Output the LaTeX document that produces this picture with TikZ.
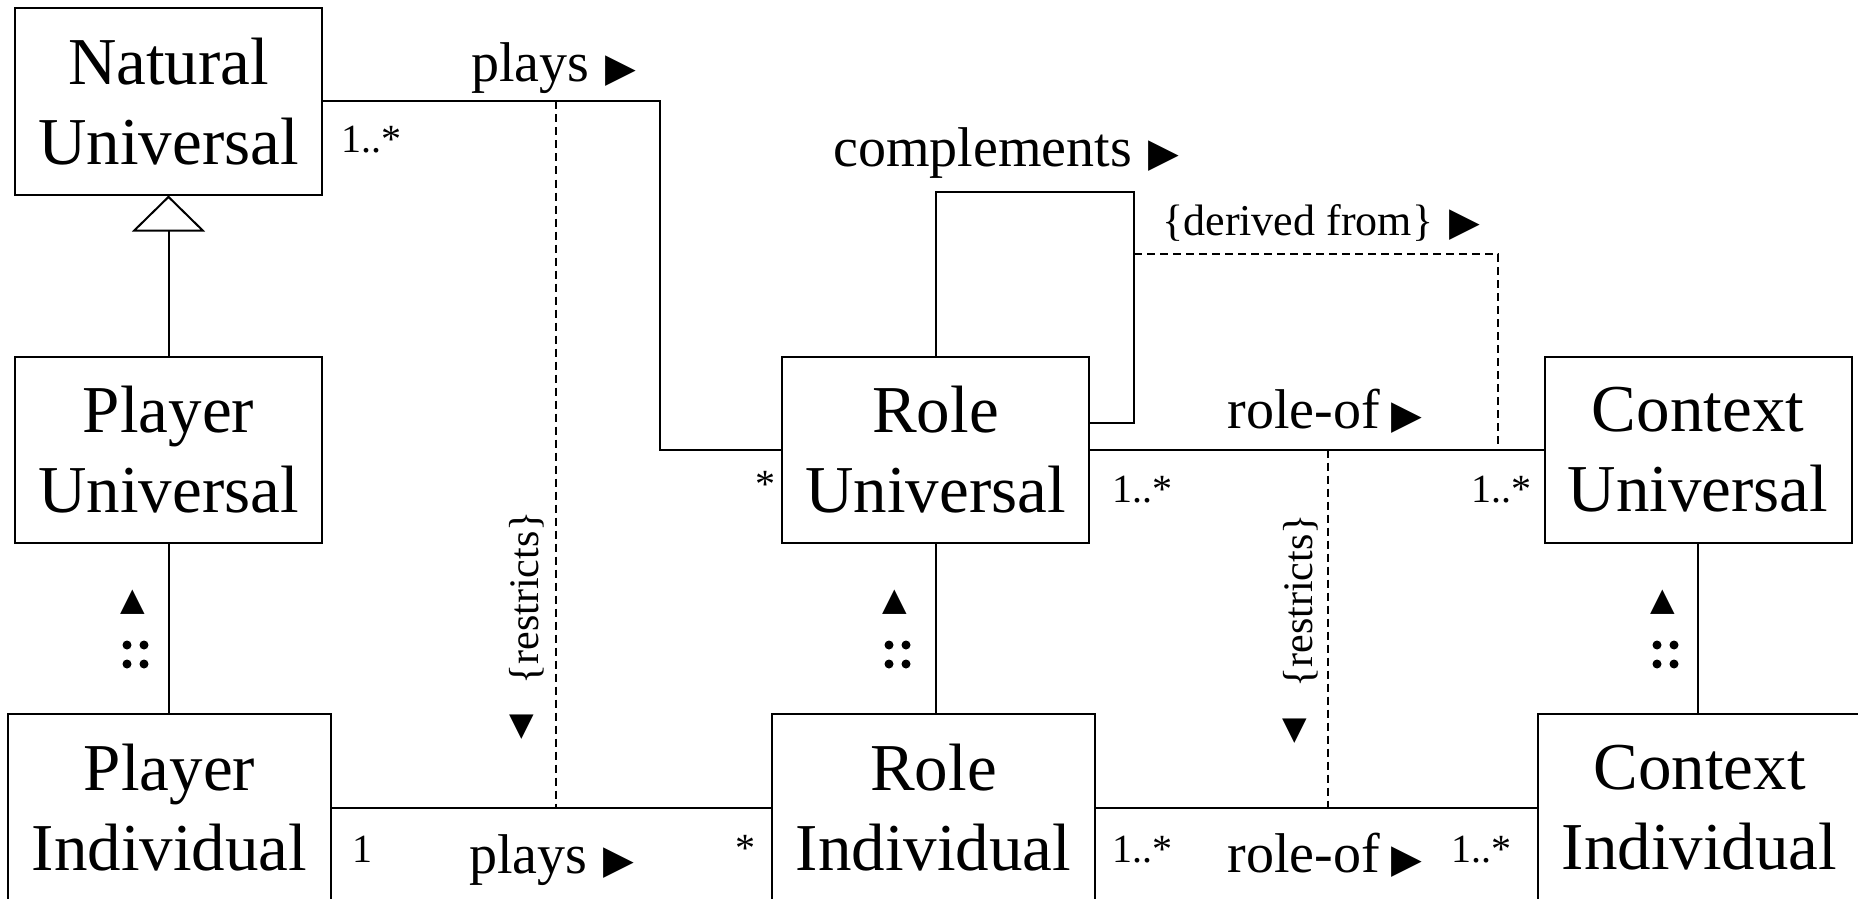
\documentclass[tikz,border=0pt]{standalone}
\usepackage{fontspec}
\setmainfont{Liberation Serif}
\newfontfamily\symf{DejaVu Sans}
\usetikzlibrary{arrows.meta,calc}
\newcommand{\trisize}{\fontsize{16}{16}\selectfont}
\newcommand{\rtri}{{\symf\fontsize{20}{20}\selectfont ▶}}
\newcommand{\dtri}{{\symf\trisize ▼}}
\newcommand{\utri}{{\symf\trisize ▲}}
\begin{document}
\begin{tikzpicture}[x=0.5pt,y=-0.5pt,
  cls/.style={draw, line width=1pt, align=center, inner sep=0pt,
    font=\fontsize{33.5}{40}\selectfont},
  wbox/.style={minimum width=153.5pt, minimum height=93pt},
  wboxb/.style={minimum width=161.5pt, minimum height=94pt},
  lbl/.style={font=\fontsize{28}{30}\selectfont, inner sep=0pt, anchor=base west},
  mult/.style={font=\fontsize{20}{22}\selectfont, inner sep=0pt, anchor=base west},
  cons/.style={font=\fontsize{21}{22}\selectfont, inner sep=0pt},
  tri/.style={inner sep=0pt},
  conn/.style={line width=1pt},
  dep/.style={line width=1pt, dash pattern=on 4pt off 2.5pt},
  dot/.style={fill=black},
]
\path[use as bounding box] (0,0) rectangle (1858,899);
\clip (0,0) rectangle (1858,899);

% classes
\node[cls, wbox] (NU) at (168.5,101.5) {Natural\\Universal};
\node[cls, wbox] (PU) at (168.5,449.5) {Player\\Universal};
\node[cls, wboxb] (PI) at (169.5,808) {Player\\Individual};
\node[cls, wbox] (RU) at (935.5,449.5) {Role\\Universal};
\node[cls, wboxb] (RI) at (933.5,808) {Role\\Individual};
\node[cls, wbox] (CU) at (1698,449.5) {Context\\Universal};
\node[cls, wboxb] (CI) at (1699.5,808) {Context\\Individual};

% generalization
\draw[conn, -{Triangle[open, length=18pt, width=36.5pt, line width=1pt]}] (PU.north) -- (NU.south);

% instantiation lines
\draw[conn] (PU.south) -- (PU.south |- PI.north);
\draw[conn] (RU.south) -- (RU.south |- RI.north);
\draw[conn] (CU.south) -- (CU.south |- CI.north);

% plays (universal)
\coordinate (pbend) at (660,0);
\draw[conn] (NU.east) -| (pbend |- RU.west) -- (RU.west);
% plays (individual)
\draw[conn] (PI.east) -- (RI.west);
% role-of
\draw[conn] (RU.east) -- (CU.west);
\draw[conn] (RI.east) -- (CI.west);
% complements loop
\coordinate (loopTR) at (1134,192);
\coordinate (loopEnd) at ($(RU.east)+(0,-26.5)$);
\draw[conn] (RU.north) |- (loopTR) |- (loopEnd);
% derived from
\coordinate (dfA) at (1134,254);
\coordinate (dfB) at (1498,449.5);
\draw[dep] (dfA) -| (dfB);
% restricts
\coordinate (rlA) at (556,101.5);
\coordinate (rlB) at (556,808);
\draw[dep] (rlA) -- (rlB);
\coordinate (rrA) at (1328,449.5);
\coordinate (rrB) at (1328,808);
\draw[dep] (rrA) -- (rrB);

% labels
\node[lbl] (l1) at (471,82) {plays\hspace{8pt}\rtri};
\node[lbl] (l2) at (833,167) {complements\hspace{8pt}\rtri};
\node[font=\fontsize{22}{24}\selectfont, inner sep=0pt, anchor=base west] (l3) at (1162,235) {\{derived from\}\hspace{8pt}\rtri};
\node[lbl] (l4) at (1227,428) {role-of\hspace{6pt}\rtri};
\node[lbl] (l5) at (469,873) {plays\hspace{8pt}\rtri};
\node[lbl] (l6) at (1227,872) {role-of\hspace{6pt}\rtri};

% multiplicities
\node[mult] (m1) at (341,153) {1..*};
\node[mult] (m2) at (755,497) {*};
\node[mult] (m3) at (1112,502) {1..*};
\node[mult] (m4) at (1471,502) {1..*};
\node[mult] (m5) at (352,862) {1};
\node[mult] (m6) at (735,861) {*};
\node[mult] (m7) at (1112,862) {1..*};
\node[mult] (m8) at (1451,862) {1..*};

% restricts constraints
\node[cons, rotate=90] (c1) at (527,598) {\{restricts\}};
\node[tri] (c1t) at (522,727) {\dtri};
\node[cons, rotate=90] (c2) at (1301,601) {\{restricts\}};
\node[tri] (c2t) at (1295,731) {\dtri};

% instance-of marks
\node[tri] (i1t) at (132.5,602) {\utri};
\node[tri] (i2t) at (894.5,602) {\utri};
\node[tri] (i3t) at (1662.5,602) {\utri};
\foreach \cx in {127,144,889,906,1657,1674}{
  \fill[dot] (\cx,645) circle (2.25pt);
  \fill[dot] (\cx,664) circle (2.25pt);
}
\end{tikzpicture}
\end{document}
